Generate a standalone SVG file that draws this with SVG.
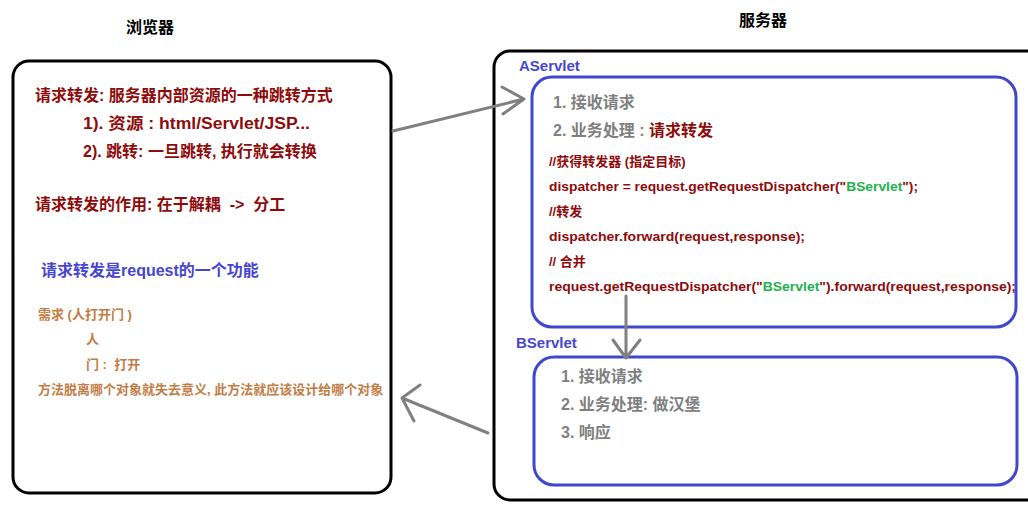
<svg xmlns="http://www.w3.org/2000/svg" width="1028" height="515" viewBox="0 0 1028 515">
<defs>
<style>
text{font-family:"Liberation Sans","Noto Sans CJK SC",sans-serif;font-weight:bold;}
.title{font-size:16px;fill:#000;}
.red{fill:#8e0b0b;font-size:16px;}
.code{fill:#8e0b0b;font-size:13px;}
.green{fill:#22b14c;}
.gray{fill:#7f7f7f;font-size:16px;}
.blue{fill:#4646cf;}
.orange{fill:#c17d45;font-size:13px;}
.box{fill:none;stroke:#000;stroke-width:3;}
.inner{fill:none;stroke:#3f48cc;stroke-width:3;}
.conn{fill:none;stroke:#808080;stroke-width:3;stroke-linecap:round;stroke-linejoin:round;}
</style>
</defs>
<rect width="1028" height="515" fill="#fff"/>
<text class="title" x="126" y="33">浏览器</text>
<text class="title" x="739" y="26">服务器</text>
<g id="browser">
<rect class="box" x="13" y="61" width="378" height="432" rx="16"/>
<text class="red" x="35" y="101">请求转发: 服务器内部资源的一种跳转方式</text>
<text class="red" x="83" y="129" textLength="227" lengthAdjust="spacingAndGlyphs">1). 资源 : html/Servlet/JSP...</text>
<text class="red" x="83" y="157">2). 跳转: 一旦跳转, 执行就会转换</text>
<text class="red" x="35" y="210">请求转发的作用: 在于解耦 &#160;-&gt; &#160;分工</text>
<text class="blue" font-size="16" x="41" y="276">请求转发是request的一个功能</text>
<text class="orange" x="38" y="319">需求 (人打开门 )</text>
<text class="orange" x="86" y="344">人</text>
<text class="orange" x="86" y="369">门 : &#160;打开</text>
<text class="orange" x="38" y="394">方法脱离哪个对象就失去意义, 此方法就应该设计给哪个对象</text>
</g>
<g id="server">
<rect class="box" x="494" y="51" width="580" height="449" rx="16"/>
</g>
<g id="aservlet">
<text class="blue" font-size="15" x="519" y="71">AServlet</text>
<rect class="inner" x="532" y="77" width="484" height="250" rx="20"/>
<text class="gray" x="553" y="108">1. 接收请求</text>
<text class="gray" x="553" y="136">2. 业务处理 : <tspan fill="#8e0b0b">请求转发</tspan></text>
<text class="code" x="549" y="166">//获得转发器 (指定目标)</text>
<text class="code" x="549" y="191" textLength="369" lengthAdjust="spacingAndGlyphs">dispatcher = request.getRequestDispatcher("<tspan class="green">BServlet</tspan>");</text>
<text class="code" x="549" y="216">//转发</text>
<text class="code" x="549" y="241" textLength="256" lengthAdjust="spacingAndGlyphs">dispatcher.forward(request,response);</text>
<text class="code" x="549" y="266">// 合并</text>
<text class="code" x="549" y="291" textLength="467" lengthAdjust="spacingAndGlyphs">request.getRequestDispatcher("<tspan class="green">BServlet</tspan>").forward(request,response);</text>
</g>
<g id="bservlet">
<text class="blue" font-size="15" x="516" y="348">BServlet</text>
<rect class="inner" x="534" y="357" width="483" height="128" rx="20"/>
<text class="gray" x="561" y="382">1. 接收请求</text>
<text class="gray" x="561" y="410">2. 业务处理: 做汉堡</text>
<text class="gray" x="561" y="438">3. 响应</text>
</g>
<g id="connectors">
<path class="conn" d="M393,131 L524,99 M502,87 L524,99 L503,114"/>
<path class="conn" d="M626,296 L626,357 M613,340 L626,358 L640,340"/>
<path class="conn" d="M488,433 L402,398 M420,385 L402,398 L414,421"/>
</g>
</svg>
